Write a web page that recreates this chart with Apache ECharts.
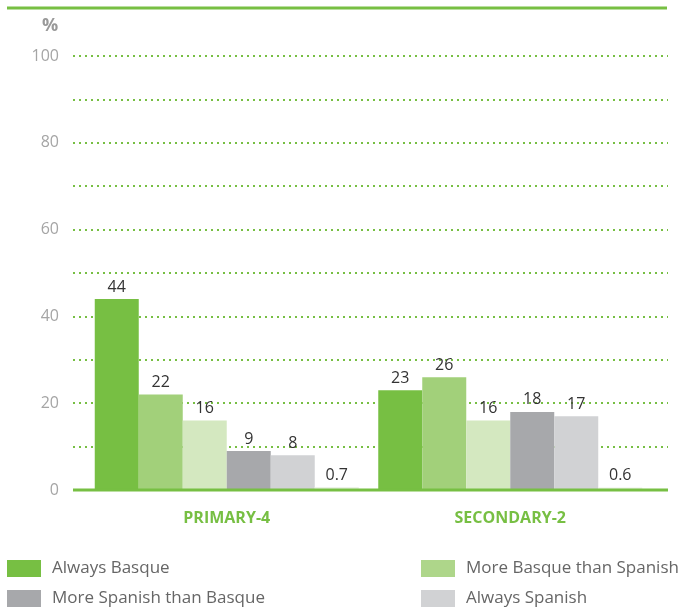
<!DOCTYPE html>
<html>
<head>
<meta charset="utf-8">
<script src="https://cdn.jsdelivr.net/npm/echarts@6/dist/echarts.min.js"></script>
<style>html,body{margin:0;padding:0;background:#fff;}#c{width:683px;height:612px;}</style>
</head>
<body>
<div id="c"></div>
<script>
var categories = ['PRIMARY-4', 'SECONDARY-2'];
var seriesNames = ['Always Basque', 'More Basque than Spanish', 'Equally Basque and Spanish', 'More Spanish than Basque', 'Always Spanish', 'Other languages'];
var alwaysBasque = [44, 23];
var moreBasque = [22, 26];
var equally = [16, 16];
var moreSpanish = [9, 18];
var alwaysSpanish = [8, 17];
var other = [0.7, 0.6];
var yTicks = [0, 20, 40, 60, 80, 100];

var colors = ['#77bf43', '#a2d07a', '#d4e8c0', '#a7a8ab', '#d1d2d4', '#edf2e8'];
var legendColors = {'Always Basque': '#77bf43', 'More Basque than Spanish': '#aed68a', 'More Spanish than Basque': '#a7a8ab', 'Always Spanish': '#d1d2d4'};
var allData = [alwaysBasque, moreBasque, equally, moreSpanish, alwaysSpanish, other];
var FONT = 'Open Sans';

var series = allData.map(function (d, i) {
  return {
    name: seriesNames[i], type: 'bar', xAxisIndex: 1, yAxisIndex: 1,
    data: d, barWidth: 44, barGap: '0%',
    itemStyle: {color: colors[i]},
    label: {show: true, position: 'top', color: '#333', fontSize: 16, fontFamily: FONT, distance: 4},
    emphasis: {disabled: true}
  };
});

var legendBase = {orient: 'vertical', itemWidth: 34, itemHeight: 17, itemGap: 13, padding: 0,
  height: 50, icon: 'rect', selectedMode: false,
  textStyle: {color: '#666', fontSize: 17, fontFamily: FONT, padding: [0, 0, 0, 6]}};

var chart = echarts.init(document.getElementById('c'));
chart.setOption({
  animation: false,
  textStyle: {fontFamily: FONT},
  grid: [
    {left: 73, right: 15, top: 56, bottom: 122},
    {left: 85, right: 31, top: 56, bottom: 122}
  ],
  xAxis: [
    {gridIndex: 0, type: 'value', min: 0, max: 1, show: true,
      axisLine: {show: false}, axisTick: {show: false}, axisLabel: {show: false}, splitLine: {show: false}},
    {gridIndex: 1, type: 'category', data: categories,
      axisLine: {show: false}, axisTick: {show: false},
      axisLabel: {color: '#77bf43', fontWeight: 'bold', fontSize: 16, fontFamily: FONT, margin: 20}}
  ],
  yAxis: [
    {gridIndex: 0, type: 'value', min: 0, max: 100, interval: 10,
      axisLine: {show: false}, axisTick: {show: false},
      axisLabel: {color: '#a5a5a5', fontSize: 16, fontFamily: FONT, margin: 14,
        formatter: function (v) { return yTicks.indexOf(v) >= 0 ? String(v) : ''; }},
      splitLine: {show: true, lineStyle: {color: '#77bf43', width: 2, type: [2, 4]}}},
    {gridIndex: 1, type: 'value', min: 0, max: 100, interval: 10, show: false}
  ],
  legend: [
    Object.assign({}, legendBase, {left: 7, top: 560,
      data: [{name: 'Always Basque', itemStyle: {color: legendColors['Always Basque']}},
             {name: 'More Spanish than Basque', itemStyle: {color: legendColors['More Spanish than Basque']}}]}),
    Object.assign({}, legendBase, {left: 421, top: 560,
      data: [{name: 'More Basque than Spanish', itemStyle: {color: legendColors['More Basque than Spanish']}},
             {name: 'Always Spanish', itemStyle: {color: legendColors['Always Spanish']}}]})
  ],
  graphic: [
    {type: 'line', shape: {x1: 7, y1: 8, x2: 667, y2: 8}, style: {stroke: '#77bf43', lineWidth: 3}},
    {type: 'line', shape: {x1: 73, y1: 490, x2: 668, y2: 490}, style: {stroke: '#77bf43', lineWidth: 3}, z: 100},
    {type: 'text', left: 42, top: 17, style: {text: '%', fill: '#999', fontSize: 18, fontWeight: 'bold', fontFamily: FONT}}
  ],
  series: series
});
</script>
</body>
</html>
